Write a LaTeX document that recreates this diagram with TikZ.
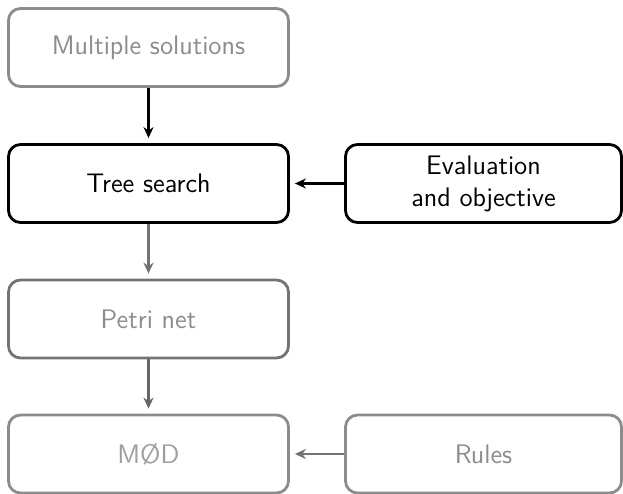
\documentclass[tikz,border=0pt]{standalone}
\usetikzlibrary{arrows.meta}
\begin{document}
\begin{tikzpicture}[x=1pt,y=1pt,
  box/.style={draw, rounded corners=6pt, line width=1.4pt, minimum width=140pt, minimum height=39pt,
    align=center, font=\sffamily\fontsize{13.4}{16}\selectfont, inner sep=0pt},
  arr/.style={line width=1.1pt, -{Stealth[length=5.5pt,width=5pt,inset=1.8pt]}, shorten >=2.5pt}]
\useasboundingbox (0,0) rectangle (311.5,247);
\node[box, draw=black!45, text=black!45] (ms) at (74.25,223.25) {Multiple solutions};
\node[box, draw=black, text=black] (ts) at (74.25,155.25) {Tree search};
\node[box, draw=black, text=black, minimum width=138pt] (ev) at (241.75,155.25) {Evaluation\\and objective};
\node[box, draw=black!55, text=black!45] (pn) at (74.25,87.5) {Petri net};
\node[box, draw=black!45, text=black!38] (md) at (74.25,20) {MØD};
\node[box, draw=black!45, text=black!45, minimum width=138pt] (ru) at (241.75,20) {Rules};
\draw[arr, black] (ms) -- (ts);
\draw[arr, black] (ev) -- (ts);
\draw[arr, black!55] (ts) -- (pn);
\draw[arr, black!60] (pn) -- (md);
\draw[arr, black!55] (ru) -- (md);
\end{tikzpicture}
\end{document}
